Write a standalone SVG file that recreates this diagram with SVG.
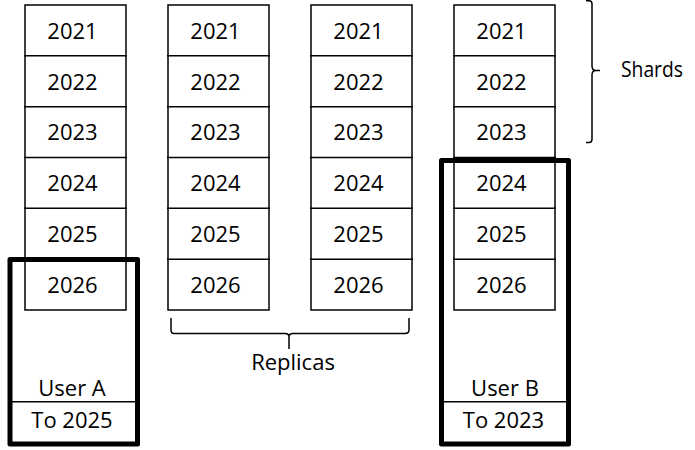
<svg xmlns="http://www.w3.org/2000/svg" width="695" height="450" viewBox="0 0 695 450">
<style>
.cell{fill:none;stroke:#000;stroke-width:1.5}
.ln{stroke:#000;stroke-width:1.5}
.t{font-family:"Open Sans","Liberation Sans",sans-serif;font-size:22px;fill:#000;text-anchor:middle}
.user{fill:none;stroke:#000;stroke-width:5;stroke-linejoin:round}
.brace{fill:none;stroke:#000;stroke-width:1.5}
</style>
<defs>
<g id="stack">
<rect class="cell" x="0" y="5" width="101" height="305"/>
<line class="ln" x1="-1" y1="55.8" x2="102" y2="55.8"/>
<line class="ln" x1="-1" y1="106.7" x2="102" y2="106.7"/>
<line class="ln" x1="-1" y1="157.5" x2="102" y2="157.5"/>
<line class="ln" x1="-1" y1="208.3" x2="102" y2="208.3"/>
<line class="ln" x1="-1" y1="259.2" x2="102" y2="259.2"/>
<text class="t" x="47.5" y="38.7">2021</text>
<text class="t" x="47.5" y="89.5">2022</text>
<text class="t" x="47.5" y="140.4">2023</text>
<text class="t" x="47.5" y="191.2">2024</text>
<text class="t" x="47.5" y="242">2025</text>
<text class="t" x="47.5" y="292.9">2026</text>
</g>
</defs>
<g id="shard-column-1"><use href="#stack" x="25" y="0"/></g>
<g id="shard-column-2"><use href="#stack" x="168" y="0"/></g>
<g id="shard-column-3"><use href="#stack" x="311" y="0"/></g>
<g id="shard-column-4"><use href="#stack" x="454" y="0"/></g>
<g id="user-a">
<rect class="user" x="10" y="259.5" width="127.5" height="184.5"/>
<line class="ln" x1="12" y1="401.7" x2="135" y2="401.7"/>
<text class="t" x="72" y="396">User A</text>
<text class="t" x="72" y="428">To 2025</text>
</g>
<g id="user-b">
<rect class="user" x="441.5" y="160.5" width="127" height="283.5"/>
<line class="ln" x1="444" y1="401.7" x2="566" y2="401.7"/>
<text class="t" x="505" y="396">User B</text>
<text class="t" x="503.5" y="428">To 2023</text>
</g>
<g id="connectors">
<path class="brace" d="M586,0.8 L589,0.8 Q592,0.8 592,4 L592,66 Q592,70.5 596,70.5 L600,70.5 M596,70.5 Q592,70.5 592,75 L592,139 Q592,142.5 589,142.5 L586,142.5"/>
<path class="brace" d="M171,318 L171,330 Q171,333.5 174,333.5 L285,333.5 Q289,333.5 289,337 L289,349 M289,337 Q289,333.5 293,333.5 L405,333.5 Q409,333.5 409,330 L409,318"/>
</g>
<g id="labels">
<text class="t" x="621" y="77" style="text-anchor:start" textLength="62" lengthAdjust="spacingAndGlyphs">Shards</text>
<text class="t" x="293" y="370">Replicas</text>
</g>
</svg>
